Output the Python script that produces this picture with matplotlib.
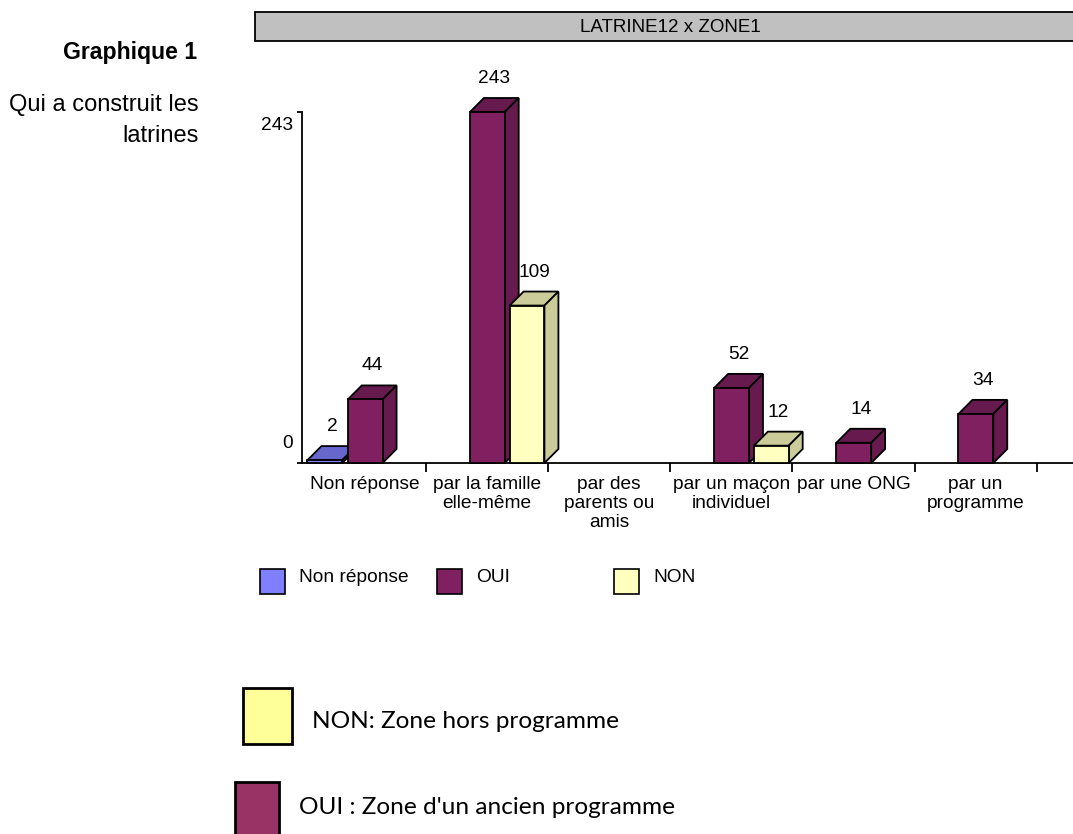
import matplotlib
matplotlib.use("Agg")
import matplotlib.pyplot as plt
from matplotlib.patches import Polygon, Rectangle
from matplotlib.transforms import ScaledTranslation

# --- data ---
categories = ["Non réponse", "par la famille\nelle-même", "par des\nparents ou\namis",
              "par un maçon\nindividuel", "par une ONG", "par un\nprogramme"]
series_names = ["Non réponse", "OUI", "NON"]
non_reponse = [2, 0, 0, 0, 0, 0]
oui = [44, 243, 0, 52, 14, 34]
non = [0, 109, 0, 12, 0, 0]
y_ticks = [0, 243]

front_colors = ["#8080FF", "#802060", "#FFFFC0"]
dark_colors = ["#6666CC", "#661A4D", "#CCCC9A"]

plt.rcParams['font.family'] = ['Liberation Sans', 'DejaVu Sans']
FS = 13.8

W, H = 1073, 834
fig = plt.figure(figsize=(W / 100, H / 100), dpi=100)


def fx(px):
    return px / W


def fy(py):
    return 1 - py / H


def fig_rect(x0, y0, x1, y1, color, lw=1.2):
    r = Rectangle((fx(x0), fy(y1)), fx(x1) - fx(x0), fy(y0) - fy(y1),
                  transform=fig.transFigure, facecolor=color, edgecolor="black",
                  linewidth=lw, clip_on=False)
    fig.add_artist(r)


# main axes
ax = fig.add_axes([fx(302), fy(463), 1 - fx(302), (463 - 112) / H])
x_max = (W - 300.3) / 122.7
ax.set_xlim(-0.015, x_max)
ax.set_ylim(0, 243)
ax.spines['top'].set_visible(False)
ax.spines['right'].set_visible(False)
for s in ['left', 'bottom']:
    ax.spines[s].set_linewidth(1.3)

# 3D-looking bars
bar_w = 0.285
offsets = [0.03, 0.36, 0.685]
dx = 14 / 122.5
dy = 9.7


def bar3d(x0, h, front, dark, z):
    top = Polygon([(x0, h), (x0 + bar_w, h), (x0 + bar_w + dx, h + dy), (x0 + dx, h + dy)],
                  closed=True, facecolor=dark, edgecolor="black", linewidth=1.3,
                  clip_on=False, zorder=z)
    side = Polygon([(x0 + bar_w, 0), (x0 + bar_w + dx, dy), (x0 + bar_w + dx, h + dy),
                    (x0 + bar_w, h)],
                   closed=True, facecolor=dark, edgecolor="black", linewidth=1.3,
                   clip_on=False, zorder=z)
    face = Rectangle((x0, 0), bar_w, h, facecolor=front, edgecolor="black",
                     linewidth=1.3, clip_on=False, zorder=z)
    for p in (top, side, face):
        ax.add_patch(p)


z = 3
for k in range(len(categories)):
    for j, vals in enumerate([non_reponse, oui, non]):
        v = vals[k]
        if v == 0:
            continue
        x0 = k + offsets[j]
        bar3d(x0, v, front_colors[j], dark_colors[j], z)
        z += 1
        ax.annotate(str(v), (x0 + bar_w / 2 + dx / 2, v + dy), xytext=(0, 15),
                    textcoords="offset pixels", ha="center", va="baseline",
                    fontsize=FS, annotation_clip=False)

# x axis: boundaries as major ticks, category names on minor ticks
ax.set_xticks(range(1, len(categories) + 1))
ax.set_xticklabels([])
ax.set_xticks([k + 0.5 for k in range(len(categories))], minor=True)
ax.set_xticklabels(categories, minor=True, fontsize=FS, linespacing=1.15)
ax.tick_params(axis='x', which='major', direction='out', length=6.5, width=1.3)
ax.tick_params(axis='x', which='minor', length=0, pad=9.5)

ax.set_yticks(y_ticks)
ax.set_yticklabels([str(t) for t in y_ticks], fontsize=FS)
ax.tick_params(axis='y', direction='out', length=3.6, width=1.3, pad=3)
shifts = [21, -12]
for lab, s in zip(ax.get_yticklabels(), shifts):
    lab.set_transform(lab.get_transform() + ScaledTranslation(0, s / 100, fig.dpi_scale_trans))

# title banner
fig_rect(255, 12, 1080, 41, "#C0C0C0", lw=1.3)
fig.text(fx(670), fy(27), "LATRINE12 x ZONE1", ha="center", va="center", fontsize=13.5)

# left captions
fig.text(fx(197), fy(53), "Graphique 1", ha="right", va="center", fontsize=16.6,
         fontweight="bold")
fig.text(fx(199), fy(105), "Qui a construit les", ha="right", va="center", fontsize=17)
fig.text(fx(199), fy(136), "latrines", ha="right", va="center", fontsize=17)

# legend
legend_boxes = [(260, 437, 614), (299, 476, 653)]
for name, bx, tx, col in zip(series_names, legend_boxes[0], legend_boxes[1], front_colors):
    fig_rect(bx, 569, bx + 25, 594, col)
    fig.text(fx(tx), fy(578), name, ha="left", va="center", fontsize=FS)

# bottom notes
fig_rect(243, 688, 292, 744, "#FFFF99", lw=2)
fig.text(fx(312), fy(721), "NON: Zone hors programme", ha="left", va="center",
         fontsize=17.6, family=["Lato", "DejaVu Sans"])
fig_rect(235, 782, 279, 850, "#993366", lw=2)
fig.text(fx(299), fy(808), "OUI : Zone d'un ancien programme", ha="left", va="center",
         fontsize=17.6, family=["Lato", "DejaVu Sans"])

fig.savefig("out.png", dpi=100)
